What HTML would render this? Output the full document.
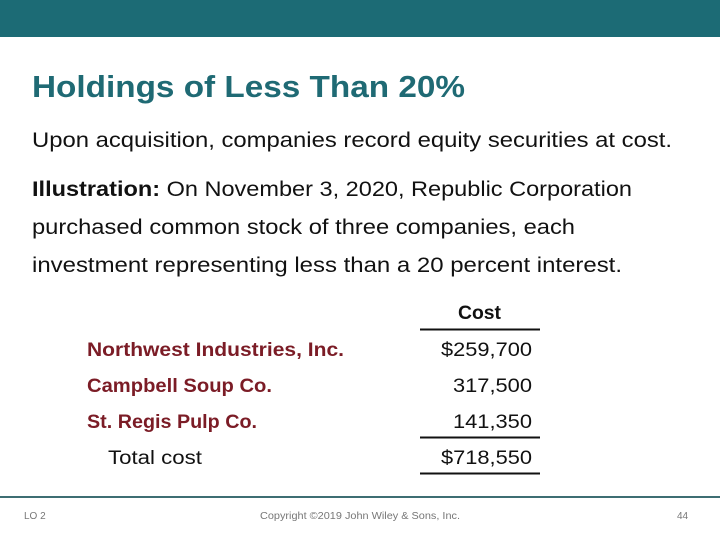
<!DOCTYPE html>
<html><head><meta charset="utf-8"><style>
html,body{margin:0;padding:0;background:#fff;}
svg{display:block;font-family:"Liberation Sans",sans-serif;}
</style></head><body>
<svg width="720" height="540" viewBox="0 0 720 540">
<rect x="0" y="0" width="720" height="37" fill="#1c6b75"/>
<text x="32" y="97" font-size="31" font-weight="bold" fill="#1f6a74" textLength="433" lengthAdjust="spacingAndGlyphs">Holdings of Less Than 20%</text>
<text x="32" y="147" font-size="21" fill="#111" textLength="640" lengthAdjust="spacingAndGlyphs">Upon acquisition, companies record equity securities at cost.</text>
<g font-size="21" fill="#111">
<text x="32" y="196" textLength="600" lengthAdjust="spacingAndGlyphs"><tspan font-weight="bold">Illustration:</tspan> On November 3, 2020, Republic Corporation</text>
<text x="32" y="234" textLength="543" lengthAdjust="spacingAndGlyphs">purchased common stock of three companies, each</text>
<text x="32" y="272" textLength="590" lengthAdjust="spacingAndGlyphs">investment representing less than a 20 percent interest.</text>
</g>
<g font-size="19">
<text x="458" y="319" font-weight="bold" fill="#111" textLength="43" lengthAdjust="spacingAndGlyphs">Cost</text>
<line x1="420" y1="329.5" x2="540" y2="329.5" stroke="#111" stroke-width="2"/>
<text x="87" y="356" font-weight="bold" fill="#7b1c26" textLength="257" lengthAdjust="spacingAndGlyphs">Northwest Industries, Inc.</text>
<text x="87" y="392" font-weight="bold" fill="#7b1c26" textLength="185" lengthAdjust="spacingAndGlyphs">Campbell Soup Co.</text>
<text x="87" y="428" font-weight="bold" fill="#7b1c26" textLength="170" lengthAdjust="spacingAndGlyphs">St. Regis Pulp Co.</text>
<text x="108" y="464" fill="#111" textLength="94" lengthAdjust="spacingAndGlyphs">Total cost</text>
<text x="441" y="356" fill="#111" textLength="91" lengthAdjust="spacingAndGlyphs">$259,700</text>
<text x="453" y="392" fill="#111" textLength="79" lengthAdjust="spacingAndGlyphs">317,500</text>
<text x="453" y="428" fill="#111" textLength="79" lengthAdjust="spacingAndGlyphs">141,350</text>
<line x1="420" y1="437.5" x2="540" y2="437.5" stroke="#111" stroke-width="2"/>
<text x="441" y="464" fill="#111" textLength="91" lengthAdjust="spacingAndGlyphs">$718,550</text>
<line x1="420" y1="473.5" x2="540" y2="473.5" stroke="#111" stroke-width="2"/>
</g>
<line x1="0" y1="497" x2="720" y2="497" stroke="#3d6e73" stroke-width="2"/>
<text x="24" y="519" font-size="10" fill="#777">LO 2</text>
<text x="260" y="519" font-size="10" fill="#777" textLength="200" lengthAdjust="spacingAndGlyphs">Copyright ©2019 John Wiley &amp; Sons, Inc.</text>
<text x="677" y="519" font-size="10" fill="#777">44</text>
</svg>
</body></html>
